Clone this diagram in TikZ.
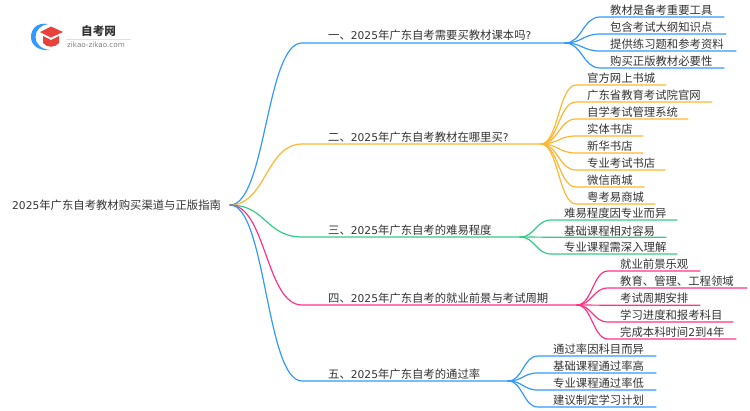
\documentclass[tikz,border=0pt]{standalone}
\usepackage{fontspec}
\setmainfont{DejaVu Sans}
\newfontfamily\cjk{Noto Sans CJK SC}
\newfontfamily\numf[Scale=0.94]{DejaVu Sans}
\newcommand{\nm}[1]{{\numf #1}}
\definecolor{cblue}{HTML}{3399FF}
\definecolor{corange}{HTML}{FFB733}
\definecolor{cgreen}{HTML}{33CC85}
\definecolor{cpink}{HTML}{FF3385}
\definecolor{ctext}{HTML}{333333}
\definecolor{clogo}{HTML}{E8403A}
\tikzset{
    txt/.style={anchor=west,inner sep=0pt,text=ctext,font=\cjk\fontsize{11.35}{13}\selectfont},
    conn/.style={line width=1.2pt,line cap=round,line join=round}
}
\begin{document}
\begin{tikzpicture}[x=1pt,y=-1pt]
    \useasboundingbox (0,0) rectangle (750,410);
    % logo
    \fill[cblue] (48,24) .. controls (36,22) and (31,30) .. (31,37) .. controls (31,45) and (38,51) .. (50,50)
        .. controls (41,49) and (35.5,44) .. (35.5,37) .. controls (35.5,30) and (41,25) .. (48,24) -- cycle;
    \fill[clogo] (51,26.5) -- (63,32) -- (51,37.5) -- (40,32) -- cycle;
    \fill[clogo] (43,36) -- (51,40) -- (59,36) -- (59,43) .. controls (55,48) and (47,48) .. (43,43) -- cycle;
    \node[txt,font=\cjk\bfseries\fontsize{11.6}{13}\selectfont] (logotitle) at (81,31) {自考网};
    \node[txt,text=gray,font=\fontsize{7.2}{9}\selectfont] (logourl) at (67,45) {zikao-zikao.com};
    \draw[black!12,line width=.6pt] (66,39) -- (131,39);
    % root
    \node[txt] (root) at (12,205) {\nm{2025}年广东自考教材购买渠道与正版指南};
    \coordinate (r0) at (230,205);
    % first level
    \node[txt] (b1) at (328,35) {一、\nm{2025}年广东自考需要买教材课本吗{\numf ?}};
    \node[txt] (b2) at (328,137) {二、\nm{2025}年广东自考教材在哪里买{\numf ?}};
    \node[txt] (b3) at (328,230) {三、\nm{2025}年广东自考的难易程度};
    \node[txt] (b4) at (328,298) {四、\nm{2025}年广东自考的就业前景与考试周期};
    \node[txt] (b5) at (328,374) {五、\nm{2025}年广东自考的通过率};
    \coordinate (b1s) at (302,43); \coordinate (b1e) at (565,43);
    \coordinate (b2s) at (302,144); \coordinate (b2e) at (541,144);
    \coordinate (b3s) at (302,237); \coordinate (b3e) at (520,237);
    \coordinate (b4s) at (302,305); \coordinate (b4e) at (577,305);
    \coordinate (b5s) at (302,381); \coordinate (b5e) at (508,381);
    \draw[conn,cblue] (r0) .. controls +(36,0) and +(-36,0) .. (b1s) -- (b1e);
    \draw[conn,corange] (r0) .. controls +(36,0) and +(-36,0) .. (b2s) -- (b2e);
    \draw[conn,cgreen] (r0) .. controls +(36,0) and +(-36,0) .. (b3s) -- (b3e);
    \draw[conn,cpink] (r0) .. controls +(36,0) and +(-36,0) .. (b4s) -- (b4e);
    \draw[conn,cblue] (r0) .. controls +(36,0) and +(-36,0) .. (b5s) -- (b5e);
    % branch one
    \foreach \n/\y/\e/\t in {1/17/724/教材是备考重要工具,2/34/726/包含考试大纲知识点,3/51/736/提供练习题和参考资料,4/68/724/购买正版教材必要性}{
        \node[txt] (a\n) at (610,\y-6.5) {\t};
        \draw[conn,cblue] (b1e) .. controls +(17,0) and +(-17,0) .. (600,\y) -- (\e,\y);
    }
    % branch two
    \foreach \n/\y/\e/\t in {1/85/666/官方网上书城,2/102/712/广东省教育考试院官网,3/119/688/自学考试管理系统,4/136/643/实体书店,5/153/643/新华书店,6/170/665/专业考试书店,7/187/644/微信商城,8/204/655/粤考易商城}{
        \node[txt] (c\n) at (587,\y-6.5) {\t};
        \draw[conn,corange] (b2e) .. controls +(17,0) and +(-17,0) .. (576,\y) -- (\e,\y);
    }
    % branch three
    \foreach \n/\y/\e/\t in {1/220/677/难易程度因专业而异,2/237.2/666/基础课程相对容易,3/254/677/专业课程需深入理解}{
        \node[txt] (d\n) at (564,\y-6.5) {\t};
        \draw[conn,cgreen] (b3e) .. controls +(15,0) and +(-15,0) .. (551,\y) -- (\e,\y);
    }
    % branch four
    \foreach \n/\y/\e/\t in {1/271/700/就业前景乐观,2/288/747/教育、管理、工程领域,3/305.2/700/考试周期安排,4/322/733/学习进度和报考科目,5/339/736/完成本科时间\nm{2}到\nm{4}年}{
        \node[txt] (e\n) at (620,\y-6.5) {\t};
        \draw[conn,cpink] (b4e) .. controls +(15,0) and +(-15,0) .. (608,\y) -- (\e,\y);
    }
    % branch five
    \foreach \n/\y/\e/\t in {1/356/656/通过率因科目而异,2/373/656/基础课程通过率高,3/390/656/专业课程通过率低,4/407/656/建议制定学习计划}{
        \node[txt] (f\n) at (553,\y-6.5) {\t};
        \draw[conn,cblue] (b5e) .. controls +(15,0) and +(-15,0) .. (538,\y) -- (\e,\y);
    }
\end{tikzpicture}
\end{document}
